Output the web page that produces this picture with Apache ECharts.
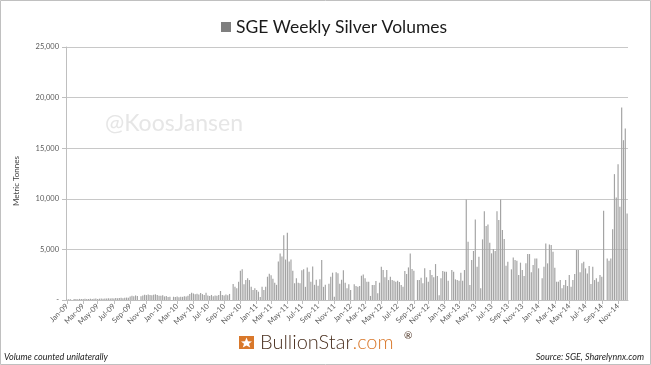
<!DOCTYPE html>
<html><head><meta charset="utf-8">
<script src="https://cdn.jsdelivr.net/npm/echarts@6/dist/echarts.min.js"></script>
<style>html,body{margin:0;padding:0;background:#fff}#c{width:651px;height:365px}</style>
</head><body><div id="c"></div>
<script>
const seriesName = 'SGE Weekly Silver Volumes';
const firstWeekUTC = Date.UTC(2009, 0, 2); // first weekly observation (categories step 7 days)
const tickLabels = ['Jan-09','Mar-09','May-09','Jul-09','Sep-09','Nov-09',
  'Jan-10','Mar-10','May-10','Jul-10','Sep-10','Nov-10',
  'Jan-11','Mar-11','May-11','Jul-11','Sep-11','Nov-11',
  'Jan-12','Mar-12','May-12','Jul-12','Sep-12','Nov-12',
  'Jan-13','Mar-13','May-13','Jul-13','Sep-13','Nov-13',
  'Jan-14','Mar-14','May-14','Jul-14','Sep-14','Nov-14'];
const yTicks = [0, 5000, 10000, 15000, 20000, 25000];

const vol2009 = [60, 80, 70, 0, 90, 100, 80, 110, 90,
  100, 120, 90, 110, 130, 100, 120, 140, 110,
  130, 150, 120, 160, 140, 170, 150, 180, 160,
  190, 170, 200, 220, 180, 210, 240, 230,
  350, 420, 380, 450, 400, 0,
  380, 450, 520, 480, 550, 500, 470, 530, 560, 490, 420];
const vol2010 = [420, 480, 350, 400, 300, 320, 0,
  320, 300, 350, 280, 330, 310, 360, 340,
  420, 600, 720, 650, 560, 620, 550, 700, 580, 500, 720,
  450, 400, 500, 380, 450, 420, 500, 890,
  500, 450, 550, 480, 600, 0,
  1580, 1320, 1150, 1800,
  2900, 3030, 1550, 1970, 2140, 1970, 1300, 990];
const vol2011 = [1150, 990, 820, 300, 1300, 990, 1300, 2300, 2600, 2450,
  2100, 1700, 1500, 3800, 4600, 4300, 6400, 4000, 6650, 3800,
  4000, 2900, 1650, 2150, 1700, 1650, 2950, 3050, 1300, 3200,
  2800, 1800, 3300, 1500, 2000, 1400, 2050, 3950, 1300, 1500,
  0, 1600, 2300, 2700, 330, 2750, 2650, 1600, 2000, 2950,
  1700, 1150];
const vol2012 = [1550, 990, 0, 1550, 1380, 1300, 1380, 2400, 2530, 2140,
  1810, 1810, 400, 1480, 1480, 1880, 660, 1710, 3290, 2960,
  2240, 2960, 1970, 2300, 1970, 1910, 1810, 1910, 1780, 1480,
  1320, 2860, 2570, 3220, 4600, 3060, 2900, 0, 1970, 1970,
  2200, 1650, 3130, 2240, 1810, 2960, 2470, 2240, 3550, 2370,
  460, 2140];
const vol2013 = [2860, 2800, 2800, 1910, 0, 2960, 2800, 2040, 1970, 1910,
  2700, 1910, 2960, 9935, 5750, 1480, 3950, 4840, 7960,
  3290, 4280, 1150, 5990, 8780, 7300, 7470, 5660, 4610, 5030,
  4840, 8780, 7900, 9940, 6910, 6020, 3390, 3780, 0, 3030,
  4210, 3950, 3880, 2470, 3690, 2960, 2370, 3620, 4540, 4540,
  2730, 3450, 4110];
const vol2014 = [4110, 3130, 0, 2140, 3290, 5590, 3620, 5490, 5430, 4770,
  3190, 1810, 1810, 1970, 1150, 1480, 1970, 1380, 2470, 1320,
  1970, 2570, 4940, 4940, 2730, 3620, 3780, 3130, 2630, 3360,
  1580, 3290, 1970, 2140, 1810, 2470, 2300, 8820, 0, 4110,
  3880, 4110, 6980, 12440, 10130, 13420, 9210, 19020, 15790, 16940,
  8550];

const volumes = [].concat(vol2009, vol2010, vol2011, vol2012, vol2013, vol2014);
const DAY = 86400000;
const weeks = volumes.map((v, i) => new Date(firstWeekUTC + i * 7 * DAY).toISOString().slice(0, 10));
function isTick(i) {
  const d = new Date(firstWeekUTC + i * 7 * DAY);
  return d.getUTCMonth() % 2 === 0 && d.getUTCDate() <= 7;
}
function tickText(i) {
  const d = new Date(firstWeekUTC + i * 7 * DAY);
  return tickLabels[(d.getUTCFullYear() - 2009) * 6 + d.getUTCMonth() / 2] || '';
}

const chart = echarts.init(document.getElementById('c'), null, {renderer: 'canvas'});
chart.setOption({
  animation: false,
  backgroundColor: '#ffffff',
  textStyle: {fontFamily: 'Lato'},
  legend: {
    left: 216, top: 13, itemWidth: 10, itemHeight: 10, itemGap: 8,
    icon: 'rect',
    data: [{name: seriesName, itemStyle: {color: '#7f7f7f'}}],
    textStyle: {fontSize: 17.5, color: '#1a1a1a', fontFamily: 'Lato'}
  },
  grid: {left: 66, right: 23, top: 47, bottom: 65, containLabel: false},
  xAxis: {
    type: 'category', data: weeks,
    axisLine: {lineStyle: {color: '#bfbfbf'}},
    axisTick: {show: true, alignWithLabel: true, interval: (i) => isTick(i), length: 4, lineStyle: {color: '#bfbfbf'}},
    axisLabel: {interval: (i) => isTick(i), rotate: 45, fontSize: 7.5, color: '#595959', margin: 5,
      formatter: (v, i) => tickText(i)},
    splitLine: {show: false}
  },
  yAxis: {
    type: 'value', min: yTicks[0], max: yTicks[yTicks.length - 1], interval: 5000,
    axisLine: {show: true, lineStyle: {color: '#bfbfbf'}},
    axisTick: {show: true, length: 4, lineStyle: {color: '#bfbfbf'}},
    axisLabel: {fontSize: 7.5, color: '#595959', margin: 7,
      formatter: (v) => v === 0 ? '-' : v.toLocaleString('en-US')},
    splitLine: {lineStyle: {color: '#c8c8c8'}}
  },
  series: [{
    name: seriesName, type: 'bar', data: volumes,
    barCategoryGap: '35%',
    itemStyle: {color: '#a3a3a3'},
    emphasis: {disabled: true}
  }],
  graphic: [
    {type: 'rect', shape: {x: 0.5, y: 0.5, width: 650, height: 364}, style: {fill: 'none', stroke: '#c0c0c0', lineWidth: 1}, silent: true},
    {type: 'text', x: 105, y: 124, style: {text: '@KoosJansen', fontSize: 23, fontFamily: 'Lato', fill: '#e6e6e6', verticalAlign: 'middle'}, silent: true},
    {type: 'text', x: 16, y: 181, rotation: Math.PI / 2, style: {text: 'Metric Tonnes', fontSize: 8, fontFamily: 'Lato', fill: '#404040', align: 'center', verticalAlign: 'middle'}},
    {type: 'text', x: 4, y: 357, style: {text: 'Volume counted unilaterally', fontSize: 9, fontStyle: 'italic', fontFamily: 'Lato', fill: '#262626', verticalAlign: 'middle'}},
    {type: 'text', x: 644, y: 357, style: {text: 'Source: SGE, Sharelynnx.com', fontSize: 9, fontStyle: 'italic', fontFamily: 'Lato', fill: '#262626', align: 'right', verticalAlign: 'middle'}},
    {type: 'rect', shape: {x: 239, y: 336, width: 15, height: 13}, style: {fill: '#d9782b'}},
    {type: 'polygon', shape: {points: [[246.5,337.5],[248,341.2],[252,341.4],[249,343.8],[250.2,347.6],[246.5,345.4],[242.8,347.6],[244,343.8],[241,341.4],[245,341.2]]}, style: {fill: '#ffffff'}},
    {type: 'text', x: 260, y: 343, style: {text: '{a|BullionStar}{b|.com}', verticalAlign: 'middle',
      rich: {a: {fontSize: 20, fontWeight: 300, fontFamily: 'Lato', fill: '#4a3020'}, b: {fontSize: 20, fontWeight: 300, fontFamily: 'Lato', fill: '#d9782b'}}}},
    {type: 'text', x: 404, y: 331, style: {text: '®', fontSize: 10, fontFamily: 'Lato', fill: '#4a3020', verticalAlign: 'top'}}
  ]
});
</script></body></html>
